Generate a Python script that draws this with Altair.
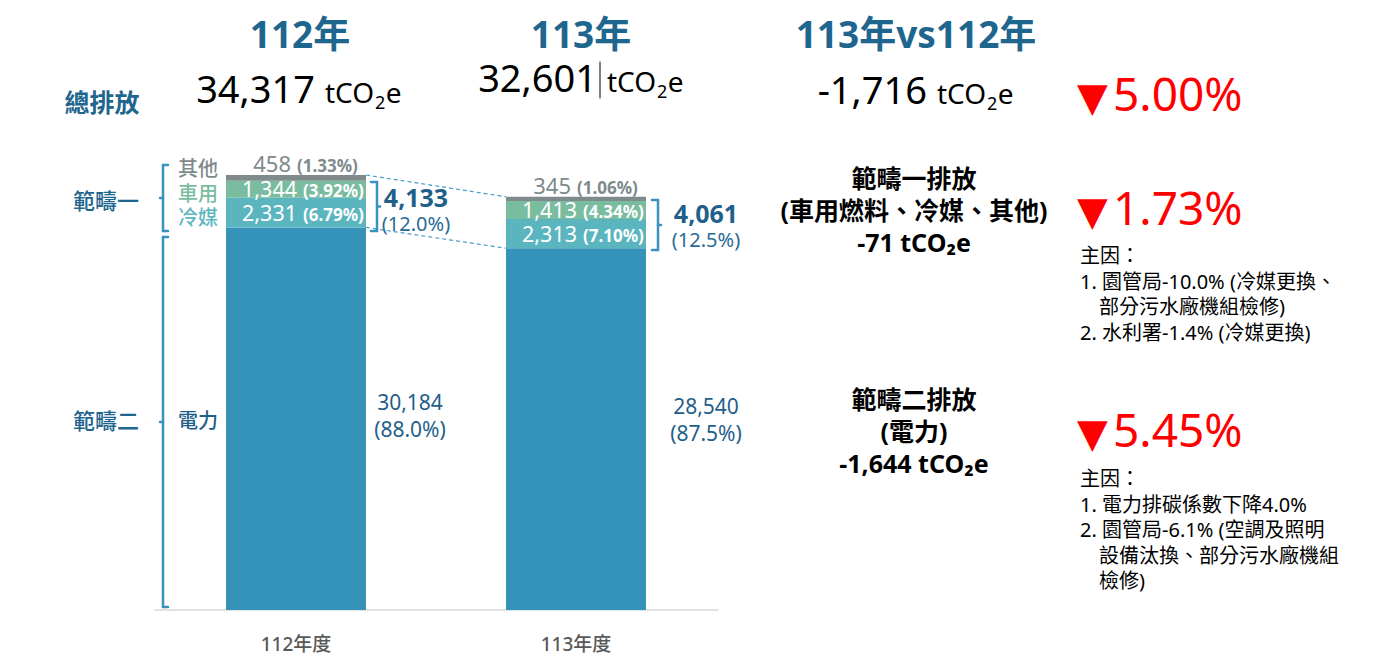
import altair as alt
import pandas as pd

# ---------------- data ----------------
years = ["112年度", "113年度"]
year_titles = ["112年", "113年", "113年vs112年"]
cats = ["電力", "冷媒", "車用", "其他"]
elec = [30184, 28540]
refrig = [2331, 2313]
vehicle = [1344, 1413]
other = [458, 345]
elec_pct = ["88.0%", "87.5%"]
refrig_pct = ["6.79%", "7.10%"]
vehicle_pct = ["3.92%", "4.34%"]
other_pct = ["1.33%", "1.06%"]
scope1 = [4133, 4061]
scope1_pct = ["12.0%", "12.5%"]
totals = [34317, 32601]
total_diff = -1716
total_change = "5.00%"
scope1_diff = -71
scope1_change = "1.73%"
scope2_diff = -1644
scope2_change = "5.45%"
scope1_reasons = ["主因：", "1. 園管局-10.0% (冷媒更換、", "部分污水廠機組檢修)", "2. 水利署-1.4% (冷媒更換)"]
scope2_reasons = ["主因：", "1. 電力排碳係數下降4.0%", "2. 園管局-6.1% (空調及照明", "設備汰換、部分污水廠機組", "檢修)"]

# ---------------- styles ----------------
FONT = "Noto Sans, Noto Sans CJK TC"
CJK = "Noto Sans CJK TC"
colors = ["#3593BA", "#5AB5BF", "#79BC9F", "#7E8A8C"]
TITLE_BLUE = "#1F668F"
DARK_BLUE = "#1F5F8A"
BRACE = "#3A92BE"
GRAY = "#7E8A8C"
RED = "#FF0000"

rows = []
for i, yr in enumerate(years):
    base = 0
    for cat, vals, pcts in zip(cats, [elec, refrig, vehicle, other],
                               [elec_pct, refrig_pct, vehicle_pct, other_pct]):
        v = vals[i]
        rows.append(dict(year=yr, pos=i, cat=cat, value=v, y0=base, y1=base + v,
                         ymid=base + v / 2, xl=i - 0.25, xr=i + 0.25,
                         label=f"{v:,}", plabel=f"({pcts[i]})"))
        base += v
df = pd.DataFrame(rows)

xs = alt.Scale(domain=[0, 1], range=[288, 568], nice=False, zero=False)
ys = alt.Scale(domain=[0, 40000], range=[602, 95], nice=False, zero=False)
one = pd.DataFrame({"k": [0]})


def X(f):
    return alt.X(f, scale=xs, axis=None)


def Y(f):
    return alt.Y(f, scale=ys, axis=None)


def T(text, x, y, size, color, weight="normal", align="center", baseline="middle", font=FONT):
    return alt.Chart(one).mark_text(text=text, align=align, baseline=baseline, fontSize=size,
                                    color=color, fontWeight=weight, font=font).encode(
        x=alt.value(x - 8), y=alt.value(y - 8))


def R(x1, y1, x2, y2, color=BRACE, w=2.5):
    return alt.Chart(one).mark_rule(color=color, strokeWidth=w, strokeCap="round").encode(
        x=alt.value(x1 - 8), y=alt.value(y1 - 8), x2=alt.value(x2 - 8), y2=alt.value(y2 - 8))


def unit(x, y, size, color="black"):
    """tCO2e with a real subscript 2, left edge at x, alphabetic baseline at y."""
    w_tco = 1.766 * size
    sub = round(size * 0.66)
    out = [T("tCO", x, y, size, color, align="left", baseline="alphabetic"),
           T("2", x + w_tco + 0.5, y + size * 0.22, sub, color, align="left", baseline="alphabetic"),
           T("e", x + w_tco + 0.572 * sub + 1, y, size, color, align="left", baseline="alphabetic")]
    return out


layers = []

# axis baseline
layers.append(R(155, 610, 718, 610, "#D9D9D9", 1.5))

# bars
layers.append(alt.Chart(df).mark_bar().encode(
    x=X("xl:Q"), x2="xr", y=Y("y0:Q"), y2="y1",
    color=alt.Color("cat:N", scale=alt.Scale(domain=cats, range=colors), legend=None)))

# dashed connectors between scope-1 extents
conn = pd.DataFrame({"xa": [0.25, 0.25], "xb": [0.75, 0.75],
                     "ya": [totals[0], elec[0]], "yb": [totals[1], elec[1]]})
layers.append(alt.Chart(conn).mark_rule(color="#4A9BC7", strokeWidth=1.2, strokeDash=[4, 3]).encode(
    x=X("xa:Q"), x2="xb", y=Y("ya:Q"), y2="yb"))

# inner labels
inner = df[df.cat.isin(["冷媒", "車用"])]
layers.append(alt.Chart(inner).mark_text(align="right", baseline="middle", dx=1, dy=2, fontSize=21.5,
                                         color="white", font=FONT).encode(
    x=X("pos:Q"), y=Y("ymid:Q"), text="label:N"))
layers.append(alt.Chart(inner).mark_text(align="left", baseline="middle", dx=7, dy=3, fontSize=17,
                                         fontWeight="bold", color="white", font=FONT).encode(
    x=X("pos:Q"), y=Y("ymid:Q"), text="plabel:N"))

# other labels above bars
oth = df[df.cat == "其他"]
layers.append(alt.Chart(oth).mark_text(align="right", baseline="alphabetic", dx=-5, dy=-3, fontSize=22,
                                       color=GRAY, font=FONT).encode(
    x=X("pos:Q"), y=Y("y1:Q"), text="label:N"))
layers.append(alt.Chart(oth).mark_text(align="left", baseline="alphabetic", dx=1, dy=-3, fontSize=17,
                                       fontWeight="bold", color=GRAY, font=FONT).encode(
    x=X("pos:Q"), y=Y("y1:Q"), text="plabel:N"))

# electricity labels beside bars
for i, (dxv, yv) in enumerate([(114, 404), (130, 408)]):
    e = df[(df.pos == i) & (df.cat == "電力")]
    layers.append(alt.Chart(e).mark_text(align="center", baseline="middle", dx=dxv, fontSize=21,
                                         color=DARK_BLUE, font=FONT).encode(
        x=X("pos:Q"), y=alt.value(yv - 8), text="label:N"))
    layers.append(alt.Chart(e).mark_text(align="center", baseline="middle", dx=dxv, fontSize=21,
                                         color=DARK_BLUE, font=FONT).encode(
        x=X("pos:Q"), y=alt.value(yv + 27 - 8), text="plabel:N"))

# scope 1 totals beside bars
for i, (cx, yv) in enumerate([(416, 199), (706, 215)]):
    layers.append(T(f"{scope1[i]:,}", cx, yv, 25, DARK_BLUE, "bold"))
    layers.append(T(f"({scope1_pct[i]})", cx, yv + 26, 20, "#2A6A96"))

# right brackets beside bars
for (bx, top, bot) in [(377, 182, 231), (658, 200, 250)]:
    layers.append(R(bx, top, bx, bot))
    layers.append(R(bx - 6, top, bx, top))
    layers.append(R(bx - 6, bot, bx, bot))
    layers.append(R(bx, (top + bot) / 2, bx + 3, (top + bot) / 2))

# left braces
for (bx, top, bot) in [(163, 165, 231), (163, 237, 607)]:
    layers.append(R(bx, top, bx, bot))
    layers.append(R(bx, top, bx + 5, top))
    layers.append(R(bx, bot, bx + 5, bot))
    layers.append(R(bx - 3, (top + bot) / 2, bx, (top + bot) / 2))

# left labels
layers.append(T("總排放", 102, 104, 25, TITLE_BLUE, "bold", font=CJK))
layers.append(T("範疇一", 106, 202, 22, TITLE_BLUE, 500, font=CJK))
layers.append(T("範疇二", 106, 422, 22, TITLE_BLUE, 500, font=CJK))
for name, col, yv in [("其他", GRAY, 170), ("車用", colors[2], 195), ("冷媒", colors[1], 219),
                      ("電力", DARK_BLUE, 422)]:
    layers.append(T(name, 178, yv, 20, col, 500, align="left", font=CJK))

# x labels
xl_df = pd.DataFrame({"year": years, "pos": [0, 1]})
layers.append(alt.Chart(xl_df).mark_text(baseline="middle", fontSize=19, color="#595959",
                                          fontWeight=500, font=FONT).encode(
    x=X("pos:Q"), y=alt.value(645 - 8), text="year:N"))

# headline
for t, cx in zip(year_titles, [300, 581, 916]):
    layers.append(T(t, cx, 37, 37, TITLE_BLUE, "bold"))

for num, nx, base_y in [(f"{totals[0]:,}", 315, 103), (f"{totals[1]:,}", 597, 92),
                        (f"{total_diff:,}", 927, 104)]:
    layers.append(T(num, nx, base_y, 38, "black", align="right", baseline="alphabetic"))
    layers += unit(nx + 10, base_y, 28)
layers.append(R(600, 62, 600, 98, "black", 1))

# big red changes
for ch, yv in [(total_change, 97), (scope1_change, 211), (scope2_change, 433)]:
    layers.append(T("▼", 1077, yv + 2, 40, RED, align="left", font="DejaVu Sans"))
    layers.append(T(ch, 1113, yv, 46, RED, align="left", font="Noto Sans"))

# scope descriptions
for lines, y0 in [(["範疇一排放", "(車用燃料、冷媒、其他)", f"{scope1_diff:,} tCO₂e"], 180),
                  (["範疇二排放", "(電力)", f"{scope2_diff:,} tCO₂e"], 401)]:
    for k, ln in enumerate(lines):
        layers.append(T(ln, 914, y0 + 32 * k, 25, "black", "bold",
                        font="Noto Sans, DejaVu Sans, Noto Sans CJK TC"))

# reasons
for lines, y0 in [(scope1_reasons, 257), (scope2_reasons, 480)]:
    for k, ln in enumerate(lines):
        indent = 0 if (ln[0].isdigit() or ln.startswith("主因")) else 19
        layers.append(T(ln, 1080 + indent, y0 + 25.5 * k, 20, "black", align="left"))

chart = alt.layer(*layers).properties(
    width=1364, height=652,
    autosize=alt.AutoSizeParams(type="none"),
    padding=0,
).configure_view(stroke=None)

chart.save("out.html", embed_options={"renderer": "svg", "actions": False})
